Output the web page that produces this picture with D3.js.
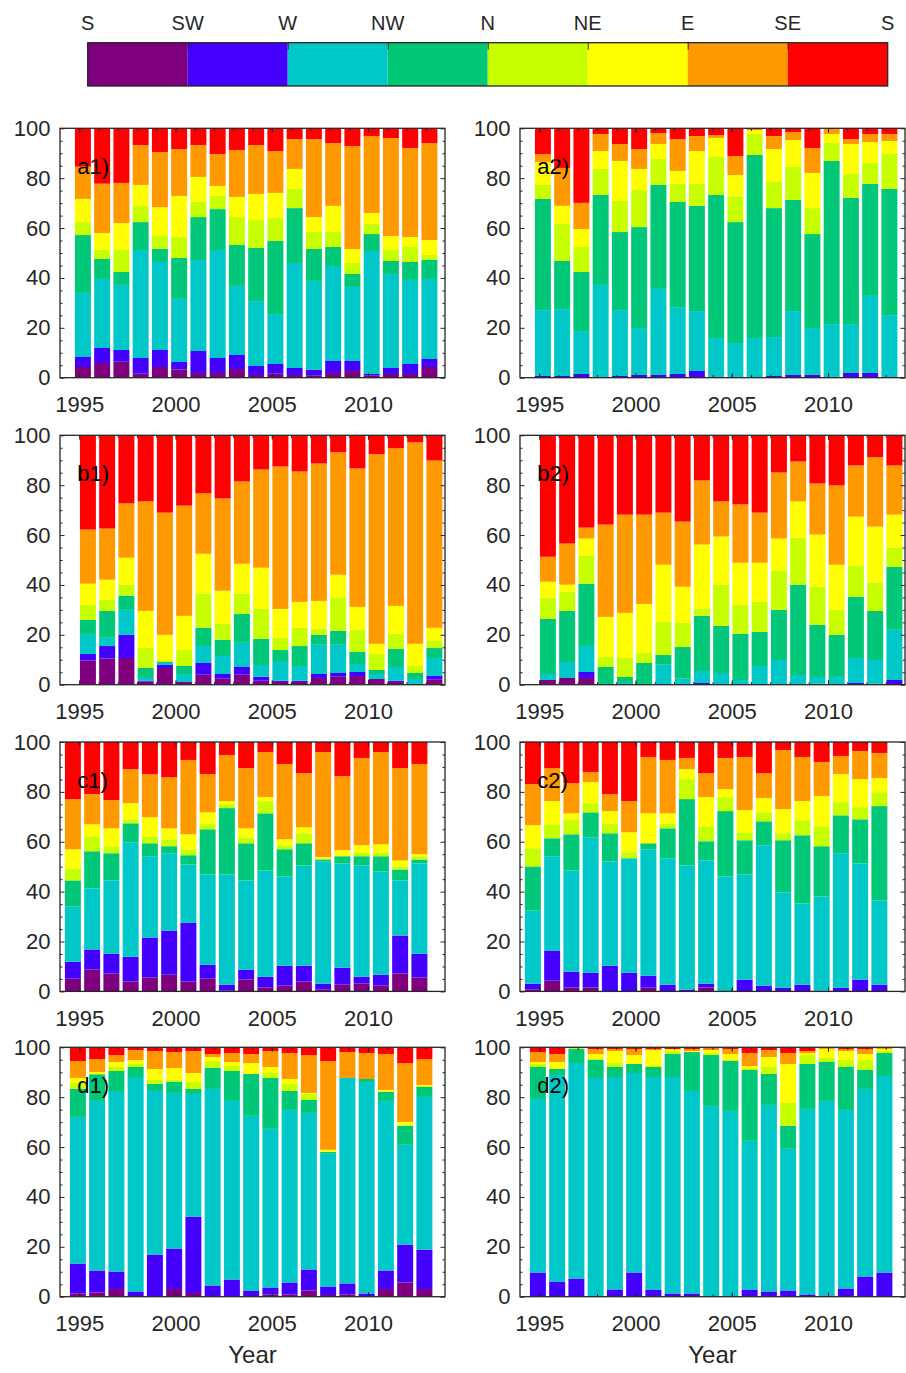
<!DOCTYPE html>
<html>
<head>
<meta charset="utf-8">
<script src="https://cdn.jsdelivr.net/npm/d3@7"></script>
<style>
  body { margin: 0; background: #fff; }
  text { font-family: "Liberation Sans", Arial, Helvetica, sans-serif; }
</style>
</head>
<body>
<svg id="chart" width="906" height="1373"></svg>
<script>
// ==========
// CHART DATA
// ==========

// wind direction classes, bottom of the stack first
const directions = ["S", "SW", "W", "NW", "N", "NE", "E", "SE"];
const dirColours = ["#7f007f", "#4400ff", "#00c8c8", "#00c878", "#c8ff00", "#ffff00", "#ff9900", "#ff0000"];
const colourbarLabels = ["S", "SW", "W", "NW", "N", "NE", "E", "SE", "S"];

const years = [1995, 1996, 1997, 1998, 1999, 2000, 2001, 2002, 2003, 2004,
               2005, 2006, 2007, 2008, 2009, 2010, 2011, 2012, 2013];
const xTickYears = [1995, 2000, 2005, 2010];
const yTicks = [0, 20, 40, 60, 80, 100];
const yMinorTicks = [5, 10, 15, 25, 30, 35, 45, 50, 55, 65, 70, 75, 85, 90, 95];

// share (%) per direction, one row per year: S, SW, W, NW, N, NE, E, SE
const a1 = [
  [4.3, 4.0, 25.7, 23.2, 5.2, 9.3, 12.9, 15.4],
  [5.9, 6.0, 27.7, 8.0, 3.7, 6.7, 19.8, 22.2],
  [6.4, 4.7, 26.1, 5.2, 8.8, 10.8, 16.1, 21.9],
  [1.6, 6.3, 43.3, 11.2, 6.5, 8.4, 16.0, 6.7],
  [4.3, 6.8, 35.3, 5.2, 5.2, 11.6, 22.1, 9.5],
  [3.3, 3.0, 25.3, 16.4, 8.4, 16.5, 18.8, 8.3],
  [1.9, 8.8, 36.5, 17.2, 6.1, 10.0, 12.8, 6.7],
  [1.9, 6.0, 43.3, 16.4, 5.3, 4.0, 12.8, 10.3],
  [3.5, 5.6, 27.7, 16.4, 11.2, 8.1, 18.8, 8.7],
  [1.1, 3.6, 26.0, 21.3, 11.2, 10.5, 19.6, 6.7],
  [1.6, 3.9, 20.0, 29.3, 9.2, 10.1, 16.8, 9.1],
  [1.1, 2.8, 42.1, 22.0, 7.7, 8.0, 12.0, 4.3],
  [0.8, 2.4, 35.6, 12.8, 6.8, 6.0, 31.3, 4.3],
  [1.9, 4.8, 38.1, 7.6, 6.0, 10.5, 25.2, 5.9],
  [2.7, 4.0, 29.7, 5.2, 4.4, 5.6, 41.3, 7.1],
  [0.8, 0.7, 49.3, 6.8, 4.0, 4.4, 30.9, 3.1],
  [1.5, 2.4, 37.7, 5.2, 4.4, 5.6, 39.3, 3.9],
  [1.5, 4.0, 33.7, 7.2, 6.0, 4.0, 35.7, 7.9],
  [4.3, 3.2, 32.1, 7.6, 2.0, 6.0, 38.9, 5.9]
];

const a2 = [
  [0.2, 0.5, 26.4, 44.6, 5.6, 9.2, 3.2, 10.3],
  [0.2, 0.5, 26.8, 19.3, 14.8, 7.3, 15.2, 15.9],
  [0.2, 1.3, 17.2, 23.7, 10.0, 7.2, 10.5, 29.9],
  [0, 0.3, 36.9, 36.1, 10.4, 7.2, 6.8, 2.3],
  [0.2, 0.5, 26.4, 31.3, 12.5, 16.0, 6.8, 6.3],
  [0, 1.1, 18.8, 40.5, 14.9, 8.4, 8.0, 8.3],
  [0, 1.1, 34.5, 41.7, 10.4, 6.0, 4.4, 1.9],
  [0, 1.5, 26.8, 42.2, 7.2, 5.2, 12.8, 4.3],
  [0, 2.7, 24.0, 42.2, 8.8, 13.2, 6.0, 3.1],
  [0, 0.3, 15.6, 57.4, 15.2, 7.6, 1.2, 2.7],
  [0, 0.3, 13.6, 48.5, 10.3, 8.6, 7.6, 11.1],
  [0, 0, 15.9, 73.4, 8.4, 1.8, 0, 0.5],
  [0, 0.7, 15.6, 51.7, 10.5, 13.2, 5.2, 3.1],
  [0, 1.1, 25.6, 44.6, 13.2, 10.8, 3.2, 1.5],
  [0, 1.1, 18.8, 37.7, 10.4, 14.1, 10.0, 7.9],
  [0, 0.3, 21.2, 65.4, 7.2, 3.6, 2.0, 0.3],
  [0, 1.9, 19.6, 50.6, 9.6, 12.0, 2.0, 4.3],
  [0, 1.9, 30.9, 44.9, 8.4, 8.4, 3.2, 2.3],
  [0, 0.3, 24.8, 50.6, 14.0, 5.2, 2.8, 2.3]
];

const b1 = [
  [9.7, 2.6, 7.7, 6.0, 6.0, 8.5, 21.7, 37.8],
  [10.5, 5.0, 3.3, 10.8, 4.4, 8.1, 20.5, 37.4],
  [10.7, 9.3, 10.0, 5.7, 4.4, 10.8, 21.8, 27.3],
  [1.2, 0.4, 1.1, 4.0, 8.0, 14.9, 43.9, 26.5],
  [6.7, 1.2, 0.8, 0.4, 0.4, 10.5, 49.0, 31.0],
  [1.1, 0, 3.2, 3.2, 6.4, 13.7, 44.2, 28.2],
  [4.0, 4.7, 6.8, 7.3, 13.7, 16.0, 24.2, 23.3],
  [2.4, 1.9, 7.2, 6.5, 6.4, 13.3, 37.0, 25.3],
  [4.0, 3.1, 9.7, 11.6, 8.1, 12.0, 33.0, 18.5],
  [1.6, 1.6, 4.7, 10.5, 12.0, 16.5, 39.4, 13.7],
  [1.1, 0.5, 7.9, 4.4, 4.9, 11.6, 57.1, 12.5],
  [1.1, 0.5, 5.9, 8.0, 7.3, 10.4, 52.3, 14.5],
  [2.7, 1.6, 11.7, 4.0, 2.4, 11.2, 55.1, 11.3],
  [3.2, 1.5, 11.3, 5.6, 13.3, 9.2, 49.1, 6.8],
  [3.5, 1.6, 3.2, 4.8, 8.9, 9.2, 55.5, 13.3],
  [2.3, 0, 2.0, 1.6, 6.4, 4.1, 76.0, 7.6],
  [1.1, 0.5, 5.5, 7.2, 6.1, 11.2, 63.2, 5.2],
  [0.3, 0, 2.0, 2.4, 2.8, 8.9, 80.8, 2.8],
  [2.0, 1.5, 7.2, 4.0, 2.9, 5.2, 67.1, 10.1]
];

const b2 = [
  [1.9, 0, 2.4, 22.1, 8.5, 6.4, 10.0, 48.7],
  [2.7, 0, 6.4, 20.5, 7.7, 2.8, 16.5, 43.4],
  [2.7, 2.4, 10.4, 25.0, 11.2, 6.9, 4.4, 37.0],
  [0, 0, 0, 7.1, 4.0, 16.1, 37.0, 35.8],
  [0, 0, 0.7, 2.4, 7.6, 18.1, 39.4, 31.8],
  [0, 0, 0, 8.7, 4.0, 19.7, 35.8, 31.8],
  [0, 0, 8.0, 3.9, 13.3, 22.9, 20.9, 31.0],
  [0, 0, 2.4, 12.7, 9.7, 14.5, 26.1, 34.6],
  [0, 0.7, 4.8, 22.1, 2.8, 25.8, 25.7, 18.1],
  [0, 0, 4.7, 18.9, 16.5, 19.3, 14.1, 26.5],
  [0, 0, 1.9, 18.5, 11.6, 16.9, 23.4, 27.7],
  [0, 0, 7.5, 13.7, 12.0, 15.7, 20.1, 31.0],
  [0, 0, 9.9, 20.1, 15.7, 12.9, 26.5, 14.9],
  [0, 0, 3.9, 36.2, 18.9, 14.5, 16.0, 10.5],
  [0.4, 0, 2.7, 20.9, 15.3, 20.9, 20.5, 19.3],
  [0, 0, 3.1, 16.9, 10.0, 18.1, 31.8, 20.1],
  [0, 0.7, 10.0, 24.6, 12.4, 19.7, 20.5, 12.1],
  [0.4, 0, 9.5, 19.7, 11.3, 22.5, 27.8, 8.8],
  [0, 1.9, 20.1, 25.3, 7.7, 13.2, 19.7, 12.1]
];

const c1 = [
  [5.1, 6.8, 22.1, 10.5, 4.8, 7.7, 20.1, 22.9],
  [8.8, 8.0, 24.5, 14.9, 6.0, 4.8, 12.1, 20.9],
  [7.2, 7.9, 29.4, 10.9, 2.8, 7.2, 11.3, 23.3],
  [4.0, 9.9, 45.9, 7.6, 1.6, 6.5, 13.6, 10.9],
  [5.6, 16.0, 32.6, 5.2, 2.8, 7.6, 17.3, 12.9],
  [6.7, 17.7, 31.0, 2.8, 2.8, 4.4, 20.5, 14.1],
  [4.0, 23.6, 23.3, 3.7, 2.4, 6.0, 29.8, 7.2],
  [5.1, 5.6, 36.2, 18.1, 2.4, 4.4, 15.3, 12.9],
  [0.3, 2.4, 44.2, 26.6, 1.6, 1.2, 18.5, 5.2],
  [4.8, 3.9, 35.8, 14.9, 2.4, 3.6, 24.1, 10.5],
  [1.6, 4.3, 42.6, 22.9, 4.9, 1.6, 18.1, 4.0],
  [2.4, 7.9, 35.8, 10.9, 1.6, 2.4, 30.2, 8.8],
  [4.0, 6.3, 40.2, 8.9, 4.0, 2.4, 21.7, 12.5],
  [0.8, 2.3, 49.0, 0.8, 0.5, 0.4, 42.2, 4.0],
  [2.7, 6.8, 41.8, 2.9, 0, 2.4, 29.7, 13.7],
  [3.2, 2.7, 44.6, 3.7, 1.6, 2.8, 35.0, 6.4],
  [2.4, 4.3, 41.4, 6.1, 1.6, 3.2, 37.0, 4.0],
  [7.2, 15.2, 22.1, 4.4, 1.2, 2.4, 37.0, 10.5],
  [5.6, 9.5, 36.2, 1.6, 1.3, 0.8, 36.2, 8.8]
];

const c2 = [
  [0.8, 2.3, 29.3, 17.7, 7.3, 9.2, 16.5, 16.9],
  [4.3, 12.1, 37.8, 7.2, 5.6, 9.3, 13.2, 10.5],
  [1.6, 6.3, 40.6, 14.5, 6.0, 2.4, 12.1, 16.5],
  [1.6, 5.9, 54.3, 10.0, 3.7, 8.4, 4.0, 12.1],
  [0, 10.3, 41.8, 11.3, 4.0, 4.9, 6.8, 20.9],
  [0, 7.5, 45.9, 0, 2.4, 8.0, 12.5, 23.7],
  [1.5, 4.8, 50.7, 2.4, 0, 12.0, 22.6, 6.0],
  [0, 2.7, 50.7, 12.0, 2.0, 4.0, 21.4, 7.2],
  [0, 0.7, 49.8, 26.6, 8.0, 4.0, 4.5, 6.4],
  [1.6, 1.5, 49.4, 7.7, 6.0, 11.7, 9.6, 12.5],
  [0, 0, 46.1, 26.2, 5.6, 3.2, 12.5, 6.4],
  [0, 4.7, 42.2, 13.7, 3.2, 8.9, 21.3, 6.0],
  [0, 2.3, 56.3, 9.6, 3.6, 5.7, 10.0, 12.5],
  [0, 1.5, 38.2, 20.9, 2.8, 9.7, 23.7, 3.2],
  [0, 2.7, 32.6, 27.3, 6.0, 7.7, 17.7, 6.0],
  [0, 0.3, 37.8, 20.1, 8.0, 12.1, 13.7, 8.0],
  [0, 1.5, 53.9, 15.2, 5.3, 11.2, 7.3, 5.6],
  [0, 4.7, 46.6, 17.7, 4.9, 11.2, 11.3, 3.6],
  [0, 2.7, 33.8, 37.8, 5.6, 5.6, 10.1, 4.4]
];

const d1 = [
  [1.3, 12.0, 58.8, 11.2, 2.4, 2.0, 6.8, 5.5],
  [1.7, 8.8, 68.0, 10.7, 0, 0.9, 5.2, 4.7],
  [3.1, 7.0, 72.0, 8.4, 1.6, 2.0, 2.8, 3.1],
  [0, 2.1, 86.0, 4.0, 1.2, 1.6, 4.0, 1.1],
  [0, 16.9, 65.6, 2.8, 1.6, 4.4, 7.2, 1.5],
  [3.1, 16.2, 62.4, 4.4, 0.8, 4.8, 6.4, 1.9],
  [1.5, 30.6, 49.2, 2.0, 2.8, 3.6, 8.8, 1.5],
  [0, 4.5, 78.8, 8.4, 2.8, 1.6, 1.2, 2.7],
  [0, 6.9, 71.6, 12.0, 2.0, 1.6, 3.6, 2.3],
  [0, 2.5, 70.0, 16.8, 0, 4.4, 3.6, 2.7],
  [0.9, 2.8, 63.6, 20.4, 2.0, 2.4, 6.4, 1.5],
  [0.9, 4.8, 69.2, 7.6, 2.8, 2.0, 10.4, 2.3],
  [2.5, 8.4, 62.8, 5.2, 2.4, 0.4, 15.2, 3.1],
  [0.7, 3.4, 53.2, 0.8, 0, 0.8, 35.6, 5.5],
  [0.9, 4.4, 82.4, 0, 0, 0, 10.4, 1.9],
  [0, 1.3, 84.8, 1.2, 0, 0, 10.4, 2.3],
  [3.1, 7.4, 68.0, 3.6, 0, 0.8, 14.4, 2.7],
  [5.7, 15.2, 40.0, 7.6, 0.4, 1.2, 23.6, 6.3],
  [3.1, 15.8, 61.2, 4.0, 0.4, 0.4, 10.4, 4.7]
];

const d2 = [
  [0, 9.7, 69.6, 12.8, 1.2, 0.8, 4.0, 1.9],
  [0, 6.1, 82.8, 2.4, 0, 2.8, 3.2, 2.7],
  [0, 7.3, 86.4, 5.6, 0.4, 0, 0, 0.3],
  [0, 0, 87.7, 7.2, 0.4, 2.0, 2.0, 0.7],
  [0, 2.9, 85.2, 4.0, 1.6, 4.8, 0.8, 0.7],
  [0, 9.7, 80.0, 3.6, 0, 3.6, 2.4, 0.7],
  [0, 2.9, 85.2, 4.0, 0.4, 6.4, 0.4, 0.7],
  [0, 1.3, 86.8, 9.2, 1.2, 0.8, 0, 0.7],
  [0, 1.3, 81.2, 15.6, 0, 0.4, 0.8, 0.7],
  [0, 0, 76.5, 20.4, 0.8, 1.2, 0.6, 0.5],
  [0, 0, 74.5, 20.0, 0.4, 2.4, 2.0, 0.7],
  [0, 2.9, 59.6, 28.4, 0.4, 1.2, 5.2, 2.3],
  [0, 2.1, 74.8, 12.4, 2.8, 4.0, 2.8, 1.1],
  [0, 2.5, 56.8, 9.2, 9.2, 15.6, 4.4, 2.3],
  [0, 0.9, 74.4, 18.0, 3.6, 0.8, 0.8, 1.5],
  [0, 0.5, 78.0, 15.6, 1.6, 3.6, 0.4, 0.3],
  [0, 3.3, 71.6, 17.2, 2.8, 3.6, 0.8, 0.7],
  [0, 8.1, 75.2, 7.6, 4.0, 2.4, 2.0, 0.7],
  [0, 9.7, 78.8, 9.2, 0.8, 0.8, 0.4, 0.3]
];

// panel name, data, grid row and column
const panels = [
  { label: "a1)", data: a1, row: 0, col: 0 },
  { label: "a2)", data: a2, row: 0, col: 1 },
  { label: "b1)", data: b1, row: 1, col: 0 },
  { label: "b2)", data: b2, row: 1, col: 1 },
  { label: "c1)", data: c1, row: 2, col: 0 },
  { label: "c2)", data: c2, row: 2, col: 1 },
  { label: "d1)", data: d1, row: 3, col: 0 },
  { label: "d2)", data: d2, row: 3, col: 1 }
];

// ======
// LAYOUT
// ======

const svg = d3.select("#chart");
const ink = "#262626";
const W = 385;
const H = 249.4;
const colLeft = [60, 520];
const rowTop = [128.3, 435.3, 742, 1047.3];
// bars sit a little off the year ticks, differently in each row
const rowShift = [0.19, 0.45, -0.33, -0.07];

const x = d3.scaleLinear().domain([1994, 2014]).range([0, W]);
const y = d3.scaleLinear().domain([0, 100]).range([H, 0]);
const barW = x(1994.83) - x(1994);

const stack = d3.stack()
  .keys(d3.range(directions.length))
  .value((d, k) => d[k]);

function styleAxis(g) {
  g.select(".domain").remove();
  g.selectAll("line").attr("stroke", ink).attr("stroke-width", 1);
  g.selectAll("text")
    .attr("fill", ink)
    .style("font-size", "22px")
    .style("font-family", '"Liberation Sans", Arial, sans-serif');
}

// ===========
// BAR PANELS
// ===========

panels.forEach(function (p) {
  const g = svg.append("g")
    .attr("transform", `translate(${colLeft[p.col]},${rowTop[p.row]})`);

  g.append("g")
    .selectAll("g")
    .data(stack(p.data))
    .join("g")
    .attr("fill", (d, i) => dirColours[i])
    .selectAll("rect")
    .data(d => d)
    .join("rect")
    .attr("x", (d, i) => x(years[i] + rowShift[p.row]) - barW / 2)
    .attr("width", barW)
    .attr("y", d => y(d[1]))
    .attr("height", d => Math.max(0, y(d[0]) - y(d[1])));

  // x axis, bottom and top, ticks pointing inward
  g.append("g").attr("transform", `translate(0,${H})`)
    .call(d3.axisBottom(x).tickValues(years).tickSize(-2.5).tickFormat(""))
    .call(styleAxis);
  g.append("g").attr("transform", `translate(0,${H})`)
    .call(d3.axisBottom(x).tickValues(xTickYears).tickSize(-4.5)
      .tickPadding(19).tickFormat(d3.format("d")))
    .call(styleAxis);
  g.append("g")
    .call(d3.axisTop(x).tickValues(years).tickSize(-2.5).tickFormat(""))
    .call(styleAxis);
  g.append("g")
    .call(d3.axisTop(x).tickValues(xTickYears).tickSize(-4.5).tickFormat(""))
    .call(styleAxis);

  // y axis, left and right
  g.append("g")
    .call(d3.axisLeft(y).tickValues(yMinorTicks).tickSize(-2.5).tickFormat(""))
    .call(styleAxis);
  g.append("g")
    .call(d3.axisLeft(y).tickValues(yTicks).tickSize(-4.5).tickPadding(9.5))
    .call(styleAxis);
  g.append("g").attr("transform", `translate(${W},0)`)
    .call(d3.axisRight(y).tickValues(yMinorTicks).tickSize(-2.5).tickFormat(""))
    .call(styleAxis);
  g.append("g").attr("transform", `translate(${W},0)`)
    .call(d3.axisRight(y).tickValues(yTicks).tickSize(-4.5).tickFormat(""))
    .call(styleAxis);

  // box
  g.append("rect")
    .attr("width", W)
    .attr("height", H)
    .attr("fill", "none")
    .attr("stroke", ink)
    .attr("stroke-width", 1.3);

  g.append("text")
    .attr("x", x(1994.9))
    .attr("y", 46)
    .attr("fill", "#000")
    .style("font-size", "22px")
    .text(p.label);

  if (p.row === 3) {
    g.append("text")
      .attr("x", W / 2)
      .attr("y", H + 66)
      .attr("text-anchor", "middle")
      .attr("fill", ink)
      .style("font-size", "24px")
      .text("Year");
  }
});

// =========
// COLOURBAR
// =========

const cb = svg.append("g").attr("transform", "translate(87.7,42.7)");
const cbW = 800;
const cbH = 43.3;
const cx = d3.scaleLinear().domain([0, directions.length]).range([0, cbW]);

cb.selectAll("rect.seg")
  .data(dirColours)
  .join("rect")
  .attr("class", "seg")
  .attr("x", (d, i) => cx(i))
  .attr("width", (d, i) => cx(i + 1) - cx(i))
  .attr("height", cbH)
  .attr("fill", d => d);

cb.append("g")
  .call(d3.axisTop(cx).tickValues(d3.range(1, directions.length)).tickSize(-7).tickFormat(""))
  .call(styleAxis);

cb.append("rect")
  .attr("width", cbW)
  .attr("height", cbH)
  .attr("fill", "none")
  .attr("stroke", ink)
  .attr("stroke-width", 1.3);

cb.selectAll("text.lab")
  .data(colourbarLabels)
  .join("text")
  .attr("class", "lab")
  .attr("x", (d, i) => cx(i))
  .attr("y", -13)
  .attr("text-anchor", "middle")
  .attr("fill", ink)
  .style("font-size", "20px")
  .text(d => d);
</script>
</body>
</html>
